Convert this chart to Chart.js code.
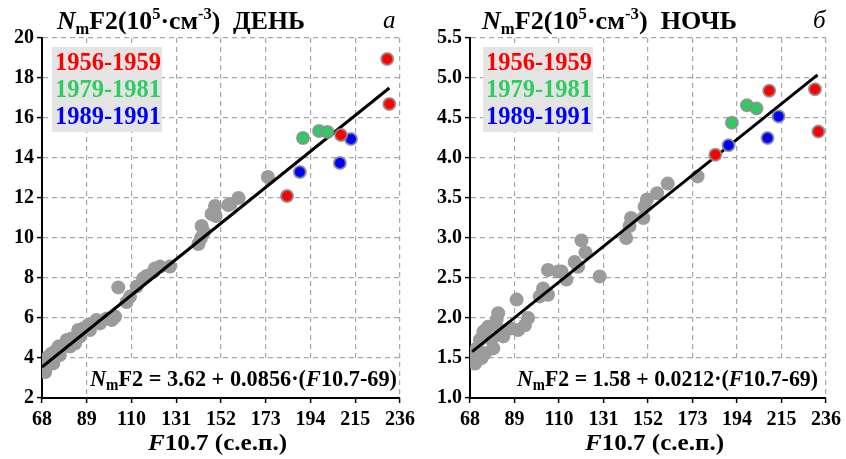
<!DOCTYPE html>
<html>
<head>
<meta charset="utf-8">
<script src="https://cdn.jsdelivr.net/npm/chart.js@4.4.1/dist/chart.umd.min.js"></script>
<style>
  body { margin: 0; background: #fff; }
  #wrap { position: relative; width: 846px; height: 459px; }
  .box { position: absolute; top: 0; width: 423px; height: 459px; }
</style>
</head>
<body>
<div id="wrap">
  <div class="box" style="left:0"><canvas id="day" width="423" height="459"></canvas></div>
  <div class="box" style="left:423px"><canvas id="night" width="423" height="459"></canvas></div>
</div>
<script>
const SERIF = '"Liberation Serif", "Times New Roman", serif';

// оси
const xTicks = [68, 89, 110, 131, 152, 173, 194, 215, 236];
const dayYTicks = [2, 4, 6, 8, 10, 12, 14, 16, 18, 20];
const nightYTicks = [1.0, 1.5, 2.0, 2.5, 3.0, 3.5, 4.0, 4.5, 5.0, 5.5];

const periods = ['1956-1959', '1979-1981', '1989-1991'];
const periodColors = ['#ff0000', '#2fcc62', '#0000ff'];

// ДЕНЬ
const dayGrayF = [68.6, 69.5, 69.4, 71, 72.5, 73.3, 74.1, 75.7, 76.4, 78, 79.6, 81.1, 81.9, 83.5, 85, 85.8, 87.4, 89.7, 90.5, 93.6,
  95.2, 98.4, 100.7, 102.3, 103.8, 107.7, 109.3, 112.4, 115.5, 117.1, 120.2, 121, 123.4, 128, 141.4, 142.6, 142.9, 144,
  147.6, 149.2, 149.5, 155.4, 156.5, 160.2, 174];
const dayGrayN = [3.4, 3.3, 3.82, 4.07, 4.23, 3.73, 4.32, 4.57, 4.15, 4.65, 4.9, 4.57, 4.98, 4.73, 5.4, 5.07, 5.48, 5.65, 5.4, 5.9,
  5.73, 5.98, 5.9, 6.07, 7.53, 6.8, 7.07, 7.57, 7.98, 8.1, 8.3, 8.48, 8.57, 8.57, 9.7, 10.0, 10.6, 10.3,
  11.2, 11.6, 11.1, 11.65, 11.7, 12.0, 13.05];
const day56F = [183, 208.3, 230, 231];
const day56N = [12.1, 15.15, 18.95, 16.7];
const day79F = [190.5, 198, 202];
const day79N = [15.0, 15.35, 15.3];
const day89F = [189, 207.8, 213];
const day89N = [13.3, 13.75, 14.95];
const dayFitF = [68, 231];
const dayFitN = [3.55, 17.5];

// НОЧЬ
const nightGrayF = [69.6, 69.6, 70.4, 71.2, 72.7, 73.5, 74.3, 75.1, 76.6, 78.2, 79, 80.6, 81.3, 82.1, 83.7, 87.6, 90, 90.7, 93.9,
  95.4, 100.9, 102.5, 104.8, 104.8, 109.6, 111.2, 113.5, 117.4, 119, 120.6, 122.5, 129.2, 141.7, 143.3, 144, 149.8,
  150.4, 151.5, 156.3, 161.3, 175.4];
const nightGrayN = [1.48, 1.54, 1.43, 1.62, 1.73, 1.5, 1.83, 1.56, 1.89, 1.73, 1.62, 1.98, 2.06, 1.85, 1.77, 1.87, 2.23, 1.85, 1.91,
  2.0, 2.27, 2.37, 2.29, 2.6, 2.58, 2.58, 2.48, 2.7, 2.64, 2.97, 2.82, 2.52, 3.0, 3.15, 3.25, 3.25,
  3.39, 3.48, 3.56, 3.68, 3.77];
const night56F = [183.8, 209.2, 230.8, 232.4];
const night56N = [4.04, 4.84, 4.86, 4.33];
const night79F = [191.6, 198.7, 203.2];
const night79N = [4.44, 4.66, 4.62];
const night89F = [190, 208.4, 213.6];
const night89N = [4.16, 4.25, 4.52];
const nightFitF = [69, 232];
const nightFitN = [1.58, 5.04];

function pts(xs, ys) { return xs.map((x, i) => ({ x: x, y: ys[i] })); }
function fnt(style, size) { return style + ' ' + size + 'px ' + SERIF; }

// строка из кусков разными шрифтами, при необходимости сжатая до width
function richText(ctx, parts, x, y, width, color) {
  let w = 0;
  parts.forEach(p => { ctx.font = p.font; w += ctx.measureText(p.t).width; });
  const k = width ? width / w : 1;
  ctx.save();
  ctx.translate(x, y);
  ctx.scale(k, 1);
  ctx.fillStyle = color || '#000';
  ctx.textAlign = 'left';
  ctx.textBaseline = 'alphabetic';
  let cx = 0;
  parts.forEach(p => {
    ctx.font = p.font;
    ctx.fillText(p.t, cx, p.dy || 0);
    cx += ctx.measureText(p.t).width;
  });
  ctx.restore();
}

function titleParts(word) {
  return [
    { t: 'N', font: fnt('italic bold', 25) },
    { t: 'm', font: fnt('bold', 16), dy: 5 },
    { t: 'F2(10', font: fnt('bold', 25) },
    { t: '5', font: fnt('bold', 16), dy: -10 },
    { t: '·см', font: fnt('bold', 25) },
    { t: '-3', font: fnt('bold', 16), dy: -10 },
    { t: ')  ' + word, font: fnt('bold', 25) }
  ];
}

function eqParts(a, b) {
  return [
    { t: 'N', font: fnt('italic bold', 24) },
    { t: 'm', font: fnt('bold', 16), dy: 4 },
    { t: 'F2 = ' + a + ' + ' + b + '·(', font: fnt('bold', 24) },
    { t: 'F', font: fnt('italic bold', 24) },
    { t: '10.7-69)', font: fnt('bold', 24) }
  ];
}

const xTitleParts = [
  { t: 'F', font: fnt('italic bold', 24) },
  { t: '10.7 (с.е.п.)', font: fnt('bold', 24) }
];

function makeChart(id, o) {
  const decor = {
    id: 'decor',
    beforeDatasetsDraw(chart) {
      const ctx = chart.ctx;
      ctx.save();
      ctx.fillStyle = '#e4e4e4';
      ctx.fillRect(o.legendX, 47, 110, 85);
      ctx.fillStyle = '#fff';
      ctx.fillRect(o.eqBox[0], 360, o.eqBox[1], 37);
      ctx.restore();
    },
    afterDraw(chart) {
      const ctx = chart.ctx;
      periods.forEach((p, i) => {
        richText(ctx, [{ t: p, font: fnt('bold', 25) }], o.legendX + 3, 70 + i * 27, 106, periodColors[i]);
      });
      ctx.save();
      ctx.fillStyle = '#000';
      ctx.font = fnt('italic', 25);
      ctx.fillText(o.letter, o.letterX, 28);
      ctx.restore();
      richText(ctx, titleParts(o.word), o.titleX, 29, o.titleW);
      richText(ctx, o.eq, o.eqX, 386, o.eqW);
      richText(ctx, xTitleParts, o.xTitleX, 450, 139);
    }
  };

  const ds = [
    { data: o.gray, backgroundColor: '#9b9b9b', borderWidth: 0, pointRadius: 7, order: 3 },
    { data: o.fit, showLine: true, borderColor: '#000', borderWidth: 3, pointRadius: 0, order: 2 }
  ];
  o.groups.forEach((g, i) => ds.push({
    data: g, backgroundColor: periodColors[i], borderColor: 'rgba(140,140,140,0.85)',
    borderWidth: 2, pointRadius: 6, order: 1
  }));

  const tickFont = { family: SERIF, size: 20, weight: 'bold' };
  const grid = { color: '#a8a8a8', lineWidth: 1.2, tickColor: '#000', tickLength: 5, tickWidth: 1.5, tickBorderDash: [] };
  const border = { color: '#000', width: 2, dash: [5, 4] };
  return new Chart(document.getElementById(id), {
    type: 'scatter',
    data: { datasets: ds },
    options: {
      responsive: false,
      animation: false,
      events: [],
      layout: { padding: { top: 38, right: o.padRight, left: 0, bottom: 0 } },
      plugins: { legend: { display: false }, tooltip: { enabled: false } },
      scales: {
        x: {
          type: 'linear', min: 68, max: 236,
          afterBuildTicks: s => { s.ticks = xTicks.map(v => ({ value: v })); },
          afterFit: s => { s.height = 61; },
          ticks: { autoSkip: false, maxRotation: 0, color: '#000', font: tickFont, padding: 5 },
          grid: grid,
          border: border
        },
        y: {
          type: 'linear', min: o.yTicks[0], max: o.yTicks[o.yTicks.length - 1],
          afterBuildTicks: s => { s.ticks = o.yTicks.map(v => ({ value: v })); },
          afterFit: s => { s.width = o.areaLeft; },
          ticks: { color: '#000', font: tickFont, padding: 3, callback: o.yFmt },
          grid: grid,
          border: border
        }
      }
    },
    plugins: [decor]
  });
}

makeChart('day', {
  gray: pts(dayGrayF, dayGrayN),
  groups: [pts(day56F, day56N), pts(day79F, day79N), pts(day89F, day89N)],
  fit: pts(dayFitF, dayFitN),
  yTicks: dayYTicks, yFmt: v => String(v),
  areaLeft: 42, padRight: 23,
  word: 'ДЕНЬ', letter: 'а', letterX: 383, titleX: 57, titleW: 248,
  legendX: 52,
  eq: eqParts('3.62', '0.0856'), eqX: 90, eqW: 307, eqBox: [88, 308],
  xTitleX: 148
});

makeChart('night', {
  gray: pts(nightGrayF, nightGrayN),
  groups: [pts(night56F, night56N), pts(night79F, night79N), pts(night89F, night89N)],
  fit: pts(nightFitF, nightFitN),
  yTicks: nightYTicks, yFmt: v => Number(v).toFixed(1),
  areaLeft: 47, padRight: 19,
  word: 'НОЧЬ', letter: 'б', letterX: 390, titleX: 59, titleW: 255,
  legendX: 60,
  eq: eqParts('1.58', '0.0212'), eqX: 94, eqW: 301, eqBox: [87, 310],
  xTitleX: 162
});
</script>
</body>
</html>
